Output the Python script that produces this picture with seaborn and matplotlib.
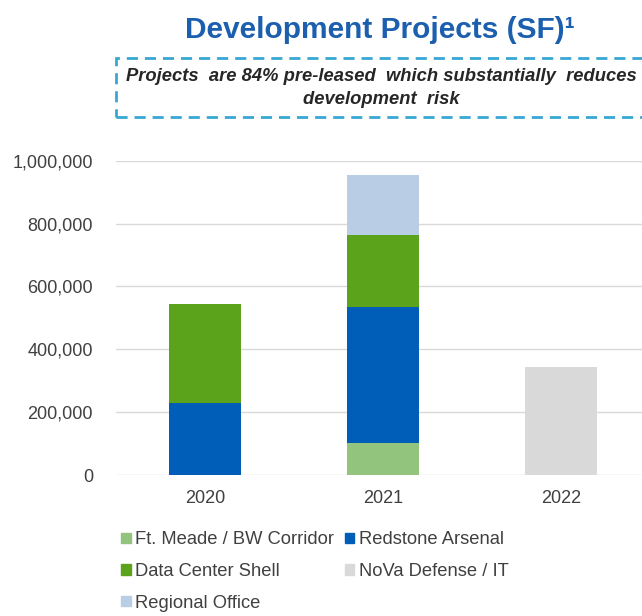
import matplotlib
matplotlib.use("Agg")
import matplotlib.pyplot as plt
import seaborn as sns
import numpy as np
import pandas as pd
from matplotlib.patches import Rectangle
from matplotlib.ticker import FuncFormatter

years = ["2020", "2021", "2022"]
series_names = ["Ft. Meade / BW Corridor", "Redstone Arsenal", "Data Center Shell",
                "NoVa Defense / IT", "Regional Office"]
ft_meade = [0, 101000, 0]
redstone = [228000, 434000, 0]
data_center = [315000, 230000, 0]
nova = [0, 0, 344000]
regional = [0, 191000, 0]
yticks = [0, 200000, 400000, 600000, 800000, 1000000]
title = "Development Projects (SF)\u00b9"
note = "Projects  are 84% pre-leased  which substantially  reduces\ndevelopment  risk"

colors = ["#93C47D", "#005EB8", "#5AA31A", "#D9D9D9", "#B9CDE4"]

sns.set_theme(style="white")
plt.rcParams["font.family"] = ["Liberation Sans", "DejaVu Sans"]

fig = plt.figure(figsize=(6.42, 6.16), dpi=100)
W, H = 642, 616
ax = fig.add_axes([116 / W, 1 - 475 / H, 1 - 116 / W, (475 - 160.7) / H])

bottom = np.zeros(len(years))
handles = {}
for name, vals, c in zip(series_names, [ft_meade, redstone, data_center, nova, regional], colors):
    df = pd.DataFrame({"year": years, "sf": vals})
    sns.barplot(data=df, x="year", y="sf", color=c, width=0.4, bottom=bottom,
                errorbar=None, ax=ax, saturation=1, order=years, linewidth=0)
    handles[name] = Rectangle((0, 0), 1, 1, color=c)
    bottom = bottom + np.array(vals)

ax.set_xlim(-0.5, 2.455)
ax.set_ylim(0, 1000000)
ax.set_yticks(yticks)
ax.yaxis.set_major_formatter(FuncFormatter(lambda v, p: f"{int(v):,}"))
ax.grid(axis="y", color="#D9D9D9", linewidth=1)
ax.set_axisbelow(True)
for s in ax.spines.values():
    s.set_visible(False)
ax.tick_params(axis="both", length=0, labelsize=13, labelcolor="#404040")
ax.tick_params(axis="y", pad=16.5)
ax.tick_params(axis="x", pad=11)
ax.set_xlabel("")
ax.set_ylabel("")

order = ["Ft. Meade / BW Corridor", "Data Center Shell", "Regional Office",
         "Redstone Arsenal", "NoVa Defense / IT"]
leg = fig.legend([handles[n] for n in order], order, loc="upper left",
                 bbox_to_anchor=(114 / W, 1 - 524 / H), ncol=2, frameon=False,
                 fontsize=13.2, handlelength=0.5, handleheight=0.5,
                 handletextpad=0.25, columnspacing=0.6, labelspacing=0.8,
                 borderaxespad=0)
for t in leg.get_texts():
    t.set_color("#404040")

fig.text(380 / W, 1 - 30 / H, title, ha="center", va="center", fontsize=21.5,
         fontweight="bold", color="#1C5FAE")

box = Rectangle((116 / W, 1 - 117 / H), (W - 116 + 10) / W, (117 - 58) / H,
                transform=fig.transFigure, fill=False, edgecolor="#38A7D4",
                linewidth=2, linestyle=(0, (4, 2.5)), clip_on=False)
fig.add_artist(box)
fig.text(381 / W, 1 - 88 / H, note, ha="center", va="center", fontsize=13.2,
         fontweight="bold", fontstyle="italic", color="#262626", linespacing=1.4)

fig.savefig("out.png", dpi=100)
